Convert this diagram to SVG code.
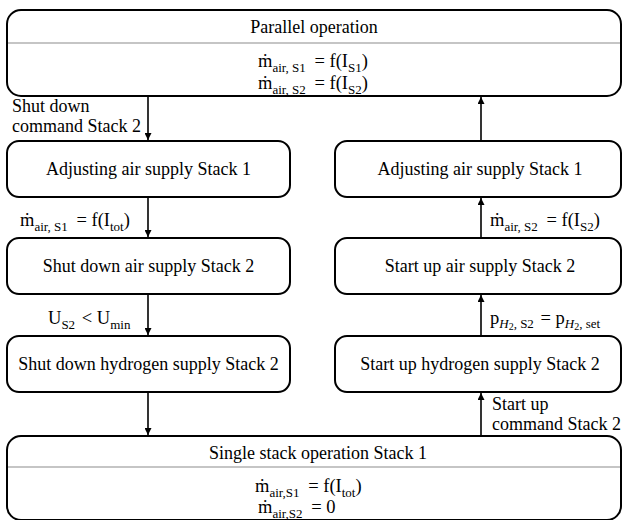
<svg xmlns="http://www.w3.org/2000/svg" width="623" height="520" viewBox="0 0 623 520">
  <defs>
    <marker id="arrow" viewBox="0 0 10 10" refX="10" refY="5" markerWidth="7" markerHeight="7" markerUnits="userSpaceOnUse" orient="auto">
      <path d="M0,0 L10,5 L0,10 z" fill="#000"/>
    </marker>
    <style>
      .box { fill: #fff; stroke: #000; stroke-width: 2; }
      .divider { stroke: #8c8c8c; stroke-width: 1.2; }
      .title { font-family: "Liberation Serif", "DejaVu Serif", serif; font-size: 18px; fill: #000; text-anchor: middle; }
      .label { font-family: "Liberation Serif", "DejaVu Serif", serif; font-size: 18px; fill: #000; }
      .eq { font-family: "Liberation Serif", "DejaVu Serif", serif; font-size: 18.5px; fill: #000; }
      .sub { font-size: 13px; }
      .it { font-style: italic; }
      .conn { stroke: #000; stroke-width: 1.6; fill: none; marker-end: url(#arrow); }
    </style>
  </defs>

  <!-- connectors -->
  <g id="connectors">
    <line class="conn" x1="148" y1="97" x2="148" y2="140"/>
    <line class="conn" x1="148" y1="198" x2="148" y2="237"/>
    <line class="conn" x1="148" y1="295" x2="148" y2="335"/>
    <line class="conn" x1="148" y1="393" x2="148" y2="435"/>
    <line class="conn" x1="481" y1="435" x2="481" y2="393"/>
    <line class="conn" x1="481" y1="335" x2="481" y2="295"/>
    <line class="conn" x1="481" y1="237" x2="481" y2="198"/>
    <line class="conn" x1="481" y1="140" x2="481" y2="97"/>

    <text class="label" x="12" y="112">Shut down</text>
    <text class="label" x="12" y="132">command Stack 2</text>
    <text class="eq" x="20" y="226">ṁ<tspan class="sub" dy="5">air, S1</tspan><tspan dx="4" dy="-5"> = f(I</tspan><tspan class="sub" dy="5">tot</tspan><tspan dy="-5">)</tspan></text>
    <text class="eq" x="48" y="324">U<tspan class="sub" dy="5">S2</tspan><tspan dx="2" dy="-5"> &lt; U</tspan><tspan class="sub" dy="5">min</tspan></text>

    <text class="label" x="492" y="410">Start up</text>
    <text class="label" x="492" y="430">command Stack 2</text>
    <text class="eq" x="490" y="324">p<tspan class="sub" dy="4"><tspan class="it">H</tspan><tspan font-size="10" dy="2">2</tspan><tspan dy="-2">, S2</tspan></tspan><tspan dx="2" dy="-4"> = p</tspan><tspan class="sub" dy="4"><tspan class="it">H</tspan><tspan font-size="10" dy="2">2</tspan><tspan dy="-2">, set</tspan></tspan></text>
    <text class="eq" x="490" y="226">ṁ<tspan class="sub" dy="5">air, S2</tspan><tspan dx="4" dy="-5"> = f(I</tspan><tspan class="sub" dy="5">S2</tspan><tspan dy="-5">)</tspan></text>
  </g>

  <!-- state: parallel operation -->
  <g id="parallel-operation">
    <rect class="box" x="7" y="10" width="614" height="86" rx="14"/>
    <line class="divider" x1="8" y1="43" x2="620" y2="43"/>
    <text class="title" x="314" y="33">Parallel operation</text>
    <text class="eq" x="258" y="67">ṁ<tspan class="sub" dy="5">air, S1</tspan><tspan dx="4" dy="-5"> = f(I</tspan><tspan class="sub" dy="5">S1</tspan><tspan dy="-5">)</tspan></text>
    <text class="eq" x="258" y="89">ṁ<tspan class="sub" dy="5">air, S2</tspan><tspan dx="4" dy="-5"> = f(I</tspan><tspan class="sub" dy="5">S2</tspan><tspan dy="-5">)</tspan></text>
  </g>

  <!-- shut-down sequence -->
  <g id="adjust-air-s1-down">
    <rect class="box" x="7" y="141" width="283" height="56" rx="12"/>
    <text class="title" x="148.5" y="175">Adjusting air supply Stack 1</text>
  </g>
  <g id="shutdown-air-s2">
    <rect class="box" x="7" y="238" width="283" height="56" rx="12"/>
    <text class="title" x="148.5" y="272">Shut down air supply Stack 2</text>
  </g>
  <g id="shutdown-h2-s2">
    <rect class="box" x="7" y="336" width="283" height="56" rx="12"/>
    <text class="title" x="148.5" y="370">Shut down hydrogen supply Stack 2</text>
  </g>

  <!-- start-up sequence -->
  <g id="adjust-air-s1-up">
    <rect class="box" x="335" y="141" width="286" height="56" rx="12"/>
    <text class="title" x="480" y="175">Adjusting air supply Stack 1</text>
  </g>
  <g id="startup-air-s2">
    <rect class="box" x="335" y="238" width="286" height="56" rx="12"/>
    <text class="title" x="480" y="272">Start up air supply Stack 2</text>
  </g>
  <g id="startup-h2-s2">
    <rect class="box" x="335" y="336" width="286" height="56" rx="12"/>
    <text class="title" x="480" y="370">Start up hydrogen supply Stack 2</text>
  </g>

  <!-- state: single stack operation -->
  <g id="single-stack-operation">
    <rect class="box" x="7" y="436" width="614" height="84" rx="14"/>
    <line class="divider" x1="8" y1="467" x2="620" y2="467"/>
    <text class="title" x="318" y="459">Single stack operation Stack 1</text>
    <text class="eq" x="255" y="492">ṁ<tspan class="sub" dy="5">air,S1</tspan><tspan dx="4" dy="-5"> = f(I</tspan><tspan class="sub" dy="5">tot</tspan><tspan dy="-5">)</tspan></text>
    <text class="eq" x="258" y="513">ṁ<tspan class="sub" dy="5">air,S2</tspan><tspan dx="4" dy="-5"> = 0</tspan></text>
  </g>
</svg>
